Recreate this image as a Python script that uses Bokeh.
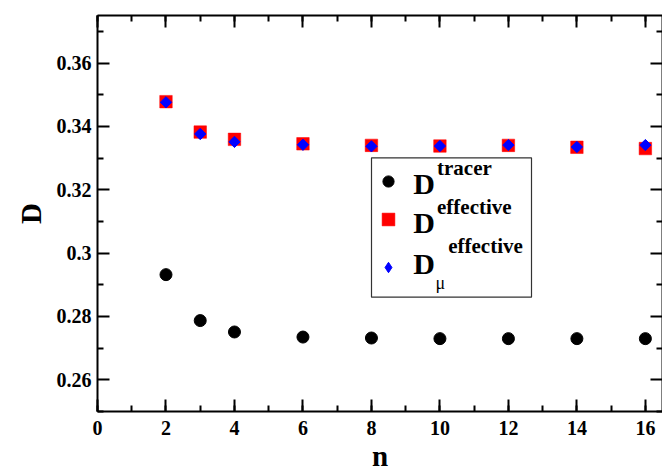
from bokeh.plotting import figure
from bokeh.models import (LinearAxis, FixedTicker, Legend, LegendItem, Label,
                          BoxAnnotation, Range1d)
from bokeh.embed import file_html
from bokeh.resources import INLINE

# Diffusion coefficients versus n
n_values = [2, 3, 4, 6, 8, 10, 12, 14, 16]
d_tracer = [0.2932, 0.2787, 0.2751, 0.2735, 0.2732, 0.2730, 0.2730, 0.2730, 0.2730]
d_effective = [0.3478, 0.3382, 0.3359, 0.3345, 0.3340, 0.3338, 0.3340, 0.3334, 0.3330]
d_mu_effective = [0.3476, 0.3376, 0.3351, 0.3342, 0.3337, 0.3338, 0.3341, 0.3335, 0.3341]

# Axis ticks
x_major = [0, 2, 4, 6, 8, 10, 12, 14, 16]
x_minor = list(range(0, 17))
x_labels = ["0", "2", "4", "6", "8", "10", "12", "14", "16"]
y_major = [0.26, 0.28, 0.30, 0.32, 0.34, 0.36]
y_minor = [0.25, 0.27, 0.29, 0.31, 0.33, 0.35, 0.37]
y_labels = ["0.26", "0.28", "0.3", "0.32", "0.34", "0.36"]

FONT = "Liberation Serif"
FRAME_LEFT, FRAME_BOTTOM = 97, 411

p = figure(width=662, height=476, x_range=Range1d(0, 16.5), y_range=Range1d(0.25, 0.375),
           output_backend="svg", toolbar_location=None,
           min_border_left=97, min_border_right=0, min_border_top=15, min_border_bottom=65)
p.background_fill_color = "white"
p.border_fill_color = "white"
p.outline_line_color = None
p.xgrid.visible = False
p.ygrid.visible = False


def style_axis(ax, ticks, minor, labels=None):
    ax.ticker = FixedTicker(ticks=ticks, minor_ticks=minor)
    ax.axis_line_color = "black"
    ax.axis_line_width = 2
    ax.major_tick_line_color = "black"
    ax.major_tick_line_width = 2
    ax.minor_tick_line_color = "black"
    ax.minor_tick_line_width = 2
    ax.major_tick_in = 12
    ax.major_tick_out = 0
    ax.minor_tick_in = 6
    ax.minor_tick_out = 0
    if labels is None:
        # mirrored axis: ticks only
        ax.major_label_overrides = {t: "" for t in ticks}
        ax.major_label_text_font_size = "1px"
        ax.major_label_standoff = 0
    else:
        ax.major_label_overrides = dict(zip(ticks, labels))
        ax.major_label_text_font = FONT
        ax.major_label_text_font_style = "bold"
        ax.major_label_text_font_size = "20px"
        ax.major_label_text_color = "black"
        ax.axis_label_text_font = FONT
        ax.axis_label_text_font_style = "bold"
        ax.axis_label_text_font_size = "29px"
        ax.axis_label_text_color = "black"


xa = p.xaxis[0]
style_axis(xa, x_major, x_minor, x_labels)
xa.axis_label = "n"
xa.major_label_standoff = 9
xa.axis_label_standoff = 2

ya = p.yaxis[0]
style_axis(ya, y_major, y_minor, y_labels)
ya.axis_label = "D"
ya.major_label_standoff = 6
ya.axis_label_standoff = 7

top_axis = LinearAxis()
style_axis(top_axis, x_major, x_minor)
p.add_layout(top_axis, "above")

right_axis = LinearAxis()
style_axis(right_axis, y_major, y_minor)
p.add_layout(right_axis, "right")

# Data series
r_eff = p.scatter(n_values, d_effective, marker="square", size=12.5,
                  fill_color="#ff0000", line_color="#ff0000", line_alpha=0.5)
r_mu = p.scatter(n_values, d_mu_effective, marker="square", size=8, angle=0.785398,
                 fill_color="#0000ff", line_color="#0000ff")
r_tr = p.scatter(n_values, d_tracer, marker="circle", size=12,
                 fill_color="black", line_color="black")

# key glyph for the mu series (legend keys are drawn unrotated)
r_mu_key = p.scatter(n_values, d_mu_effective, marker="diamond",
                     fill_color="#0000ff", line_color="#0000ff", visible=False)

# Legend frame
box = BoxAnnotation(left=274, right=434, bottom=114.3, top=253.7,
                    left_units="screen", right_units="screen",
                    bottom_units="screen", top_units="screen",
                    fill_color="white", fill_alpha=1.0,
                    line_color="#333333", line_width=1.2, line_alpha=1.0)
p.add_layout(box)


def marker_key(renderer, g, cx, cy):
    leg = Legend(items=[LegendItem(label="", renderers=[renderer])],
                 location=(cx - g / 2 - FRAME_LEFT, FRAME_BOTTOM - (cy + g / 2)),
                 glyph_width=g, glyph_height=g, label_width=0, label_height=g,
                 label_standoff=0, padding=0, margin=0, spacing=0,
                 label_text_font_size="1px",
                 border_line_color=None, background_fill_alpha=0)
    p.add_layout(leg)


marker_key(r_tr, 28, 388.3, 180.5)
marker_key(r_eff, 32, 388.0, 218.7)
marker_key(r_mu_key, 26, 388.3, 266.7)


def label(text, x, baseline, size, style="bold"):
    # the label box anchor sits a little above the alphabetic baseline
    y = FRAME_BOTTOM - baseline + 0.45 * size
    p.add_layout(Label(x=x - FRAME_LEFT, y=y, x_units="screen", y_units="screen",
                       text=text, text_font=FONT, text_font_size=f"{size}px",
                       text_font_style=style, text_color="black",
                       text_baseline="alphabetic", text_align="left"))


# legend entries
label("D", 412.7, 196.5, 30)
label("tracer", 436.5, 177.0, 21)
label("D", 412.7, 235.5, 30)
label("effective", 436.5, 215.5, 21)
label("D", 412.7, 276.0, 30)
label("\u03bc", 435.0, 291.0, 18, "normal")
label("effective", 447.7, 255.0, 21)

open("out.html", "w").write(file_html(p, INLINE))
